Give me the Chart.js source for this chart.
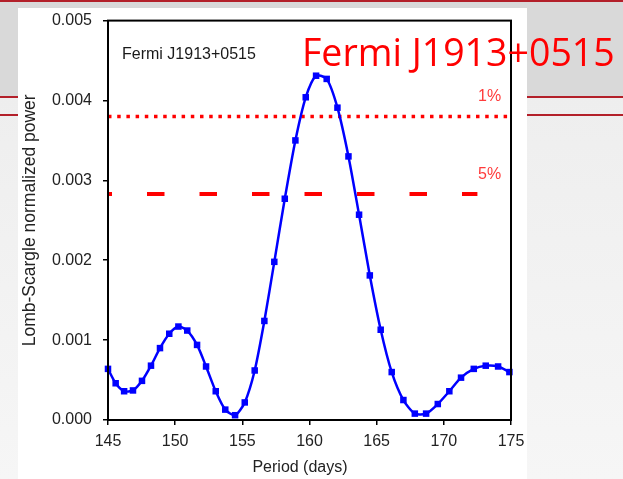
<!DOCTYPE html>
<html>
<head>
<meta charset="utf-8">
<script src="https://cdn.jsdelivr.net/npm/chart.js@4/dist/chart.umd.min.js"></script>
<style>
    body { margin: 0; width: 623px; height: 479px; overflow: hidden; position: relative;
           background: linear-gradient(#ececec, #f6f6f6); }
    .band { position: absolute; left: 0; top: 0; width: 623px; height: 96px;
            background: #d9d9d9; border-top: 2px solid #b3202a; }
    .rule { position: absolute; left: 0; width: 623px; height: 2px; background: #b3202a; }
    .sheet { position: absolute; left: 18px; top: 8px; width: 509px; height: 471px; background: #fff; }
    #periodChart { position: absolute; left: 0; top: 0; }
</style>
</head>
<body>
<div class="band"></div>
<div class="rule" style="top:96px"></div>
<div class="rule" style="top:114px"></div>
<div class="sheet"></div>
<canvas id="periodChart" width="623" height="479"></canvas>
<script>
// Lomb-Scargle periodogram of Fermi J1913+0515

const periods = [145.0, 145.57, 146.2, 146.86, 147.53, 148.2, 148.87, 149.56, 150.24, 150.9,
    151.63, 152.3, 153.02, 153.73, 154.46, 155.18, 155.92, 156.64, 157.38, 158.16,
    158.95, 159.72, 160.49, 161.28, 162.08, 162.9, 163.69, 164.49, 165.3, 166.12,
    166.99, 167.84, 168.68, 169.55, 170.41, 171.28, 172.23, 173.12, 174.04, 174.88];
const power = [0.00064, 0.00046, 0.00036, 0.00037, 0.00049, 0.00068, 0.00090, 0.00108, 0.00117, 0.00112,
    0.00094, 0.00067, 0.00036, 0.00013, 0.00006, 0.00022, 0.00062, 0.00124, 0.00198, 0.00277,
    0.00350, 0.00404, 0.00431, 0.00427, 0.00391, 0.00330, 0.00257, 0.00181, 0.00113, 0.00060,
    0.00025, 0.00008, 0.00008, 0.00020, 0.00036, 0.00053, 0.00064, 0.00068, 0.00067, 0.00060];

// significance levels
const levelNames = ['1%', '5%'];
const levelValues = [0.0038, 0.00283];
const levelEnds = [175, 172.5];

const sourceName = 'Fermi J1913+0515';
const xTitle = 'Period (days)';

const tickFont = { family: 'Liberation Sans', size: 16 };

function levelLine(i, dash, offset, width) {
    return {
        data: [{ x: 145, y: levelValues[i] }, { x: levelEnds[i], y: levelValues[i] }],
        borderColor: '#ff0000',
        borderWidth: width,
        borderDash: dash,
        borderDashOffset: offset,
        borderCapStyle: 'butt',
        pointRadius: 0,
        tension: 0
    };
}

// frame, in-plot labels, x title and the slide heading
const decorations = {
    id: 'decorations',
    afterDraw(chart) {
        const { ctx, chartArea: a } = chart;
        const y = chart.scales.y;
        ctx.save();
        ctx.strokeStyle = '#000';
        ctx.lineWidth = 2;
        ctx.strokeRect(a.left, a.top, a.right - a.left, a.bottom - a.top);

        ctx.textBaseline = 'alphabetic';
        ctx.fillStyle = '#222';
        ctx.font = '16px "Liberation Sans"';
        ctx.textAlign = 'center';
        ctx.fillText(xTitle, 300, 472);

        ctx.textAlign = 'left';
        ctx.fillStyle = '#1a1a1a';
        ctx.fillText(sourceName, 122, 59);

        ctx.fillStyle = '#ff3b3b';
        levelNames.forEach((name, i) => {
            ctx.fillText(name, 478, y.getPixelForValue(levelValues[i]) - 15);
        });

        ctx.fillStyle = '#ff0000';
        ctx.font = '37.5px "Open Sans"';
        ctx.fillText(sourceName, 302, 66);
        ctx.restore();
    }
};

new Chart(document.getElementById('periodChart'), {
    type: 'line',
    data: {
        datasets: [
            {
                data: periods.map((p, i) => ({ x: p, y: power[i] })),
                borderColor: '#0000ff',
                backgroundColor: '#0000ff',
                borderWidth: 2.5,
                pointStyle: 'rect',
                pointRadius: 4.6,
                pointBorderWidth: 0,
                tension: 0.25,
                clip: false
            },
            levelLine(0, [3.5, 5.7], 0, 3.5),
            levelLine(1, [17.5, 35], 13.5, 4)
        ]
    },
    options: {
        responsive: false,
        animation: false,
        devicePixelRatio: 1,
        layout: { padding: { top: 18, right: 112, bottom: 0, left: 0 } },
        plugins: { legend: { display: false }, tooltip: { enabled: false } },
        scales: {
            x: {
                type: 'linear',
                min: 145,
                max: 175,
                ticks: { stepSize: 5, color: '#222', font: tickFont, padding: 7, maxRotation: 0 },
                grid: { drawOnChartArea: false, tickLength: 5, color: '#000', lineWidth: 1.5 },
                border: { color: '#000', width: 2 },
                afterFit(scale) { scale.height = 59; }
            },
            y: {
                min: 0,
                max: 0.005,
                ticks: { stepSize: 0.001, color: '#222', font: tickFont, padding: 11,
                         callback: v => v.toFixed(3) },
                grid: { drawOnChartArea: false, tickLength: 5, color: '#000', lineWidth: 1.5 },
                border: { color: '#000', width: 2 },
                title: { display: true, text: 'Lomb-Scargle normalized power', color: '#222',
                         font: { family: 'Liberation Sans', size: 17.5 }, padding: { top: 20, bottom: 0 } },
                afterFit(scale) { scale.width = 108; }
            }
        }
    },
    plugins: [decorations]
});
</script>
</body>
</html>
